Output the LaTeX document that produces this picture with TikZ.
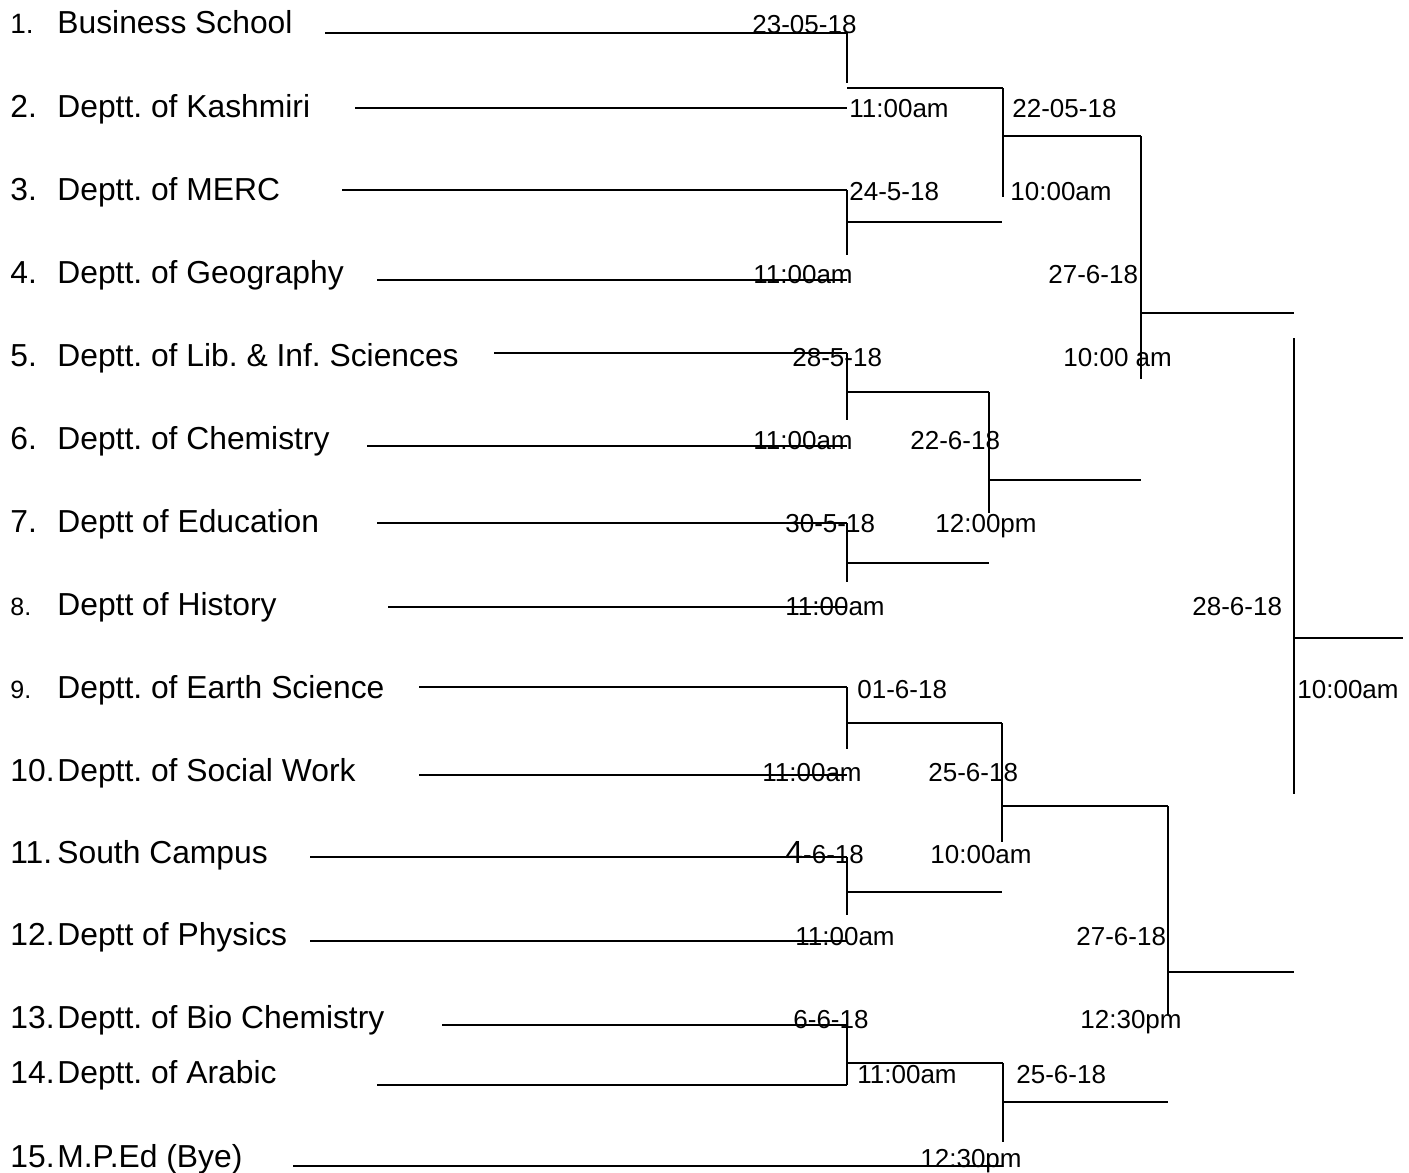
\documentclass[tikz,border=0pt]{standalone}
\usepackage{fontspec}
\setmainfont{Liberation Sans}
\frenchspacing
\tikzstyle{deptname}=[anchor=base west, inner sep=0pt, font=\fontsize{15.9}{18}\selectfont]
\tikzstyle{deptnum}=[deptname]
\tikzstyle{smallnum}=[deptname, font=\fontsize{14}{16}\selectfont]
\tikzstyle{tinynum}=[deptname, font=\fontsize{12.5}{15}\selectfont]
\tikzstyle{schedule}=[anchor=base west, inner sep=0pt, font=\fontsize{13}{15}\selectfont]
\tikzstyle{bracket}=[line width=1pt, black]
\newcommand{\deptRow}[8]{
    \node[#2] (n#1) at (10,#5) {#3.};
    \node[deptname] (d#1) at (57,#5) {#4};
    \draw[bracket] (#6,#8) -- (#7,#8);
}
\newcommand{\drawMatch}[5]{
    \draw[bracket] (#1,#2) -- (#1,#3);
    \draw[bracket] (#1,#4) -- (#5,#4);
}
\begin{document}
\begin{tikzpicture}[x=0.5pt, y=-0.5pt]
    \useasboundingbox (0,0) rectangle (1409,1173);

    % Departments
    \deptRow{1}{smallnum}{1}{Business School}{33}{325}{847}{33}
    \deptRow{2}{deptnum}{2}{Deptt. of Kashmiri}{117}{355}{847}{108}
    \deptRow{3}{deptnum}{3}{Deptt. of MERC}{200}{342}{847}{190}
    \deptRow{4}{deptnum}{4}{Deptt. of Geography}{283}{377}{847}{280}
    \deptRow{5}{deptnum}{5}{Deptt. of Lib. \& Inf. Sciences}{366}{494}{847}{353}
    \deptRow{6}{deptnum}{6}{Deptt. of Chemistry}{449}{367}{847}{446}
    \deptRow{7}{deptnum}{7}{Deptt of Education}{532}{377}{847}{523}
    \deptRow{8}{tinynum}{8}{Deptt of History}{615}{388}{847}{607}
    \deptRow{9}{tinynum}{9}{Deptt. of Earth Science}{698}{419}{847}{687}
    \deptRow{10}{deptnum}{10}{Deptt. of Social Work}{781}{419}{847}{775}
    \deptRow{11}{deptnum}{11}{South Campus}{863}{310}{847}{857}
    \deptRow{12}{deptnum}{12}{Deptt of Physics}{945}{310}{847}{941}
    \deptRow{13}{deptnum}{13}{Deptt. of Bio Chemistry}{1028}{442}{847}{1025}
    \deptRow{14}{deptnum}{14}{Deptt. of Arabic}{1083}{377}{847}{1085}
    \deptRow{15}{deptnum}{15}{M.P.Ed (Bye)}{1167}{293}{1002}{1166}

    % Round one
    \drawMatch{847}{33}{83}{88}{1003}
    \drawMatch{847}{190}{255}{222}{1002}
    \drawMatch{847}{353}{420}{392}{989}
    \drawMatch{847}{523}{582}{563}{989}
    \drawMatch{847}{687}{749}{723}{1002}
    \drawMatch{847}{857}{915}{892}{1002}
    \drawMatch{847}{1025}{1085}{1063}{1003}

    % Round two
    \drawMatch{1003}{88}{197}{136}{1141}
    \drawMatch{989}{392}{513}{480}{1141}
    \drawMatch{1002}{723}{842}{806}{1168}
    \drawMatch{1003}{1063}{1142}{1102}{1168}

    % Semi finals
    \drawMatch{1141}{136}{379}{313}{1294}
    \drawMatch{1168}{806}{1015}{972}{1294}

    % Final
    \drawMatch{1294}{338}{794}{638}{1403}

    % Dates and times
    \foreach \x/\y/\t [count=\i] in {
        752/33/23-05-18, 849/117/11:00am, 1012/117/22-05-18,
        849/200/24-5-18, 1010/200/10:00am,
        753/283/11:00am, 1048/283/27-6-18,
        792/366/28-5-18, 1063/366/10:00 am,
        753/449/11:00am, 910/449/22-6-18,
        785/532/30-5-18, 935/532/12:00pm,
        785/615/11:00am, 1192/615/28-6-18,
        857/698/01-6-18, 1297/698/10:00am,
        762/781/11:00am, 928/781/25-6-18,
        930/863/10:00am,
        795/945/11:00am, 1076/945/27-6-18,
        793/1028/6-6-18, 1080/1028/12:30pm,
        857/1083/11:00am, 1016/1083/25-6-18,
        920/1167/12:30pm} {
        \node[schedule] (s\i) at (\x,\y) {\t};
    }
    \node[schedule] (sjune4) at (785,863) {{\fontsize{16}{18}\selectfont 4}-6-18};
\end{tikzpicture}
\end{document}
